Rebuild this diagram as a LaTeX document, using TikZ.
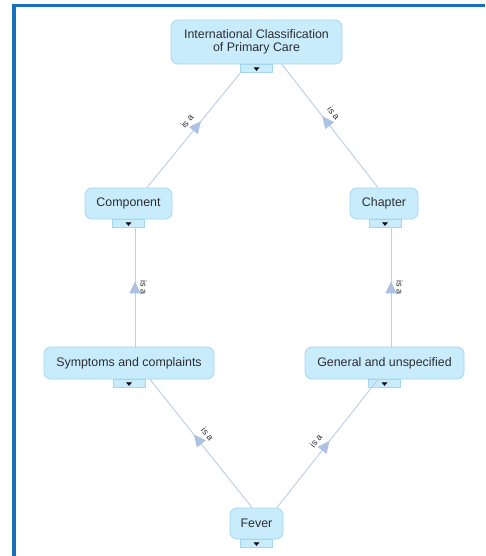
\documentclass[tikz,border=0pt]{standalone}
\usepackage{fontspec}
\setmainfont{Liberation Sans}
\usetikzlibrary{arrows.meta,decorations.markings}
\definecolor{nodefill}{RGB}{201,236,252}
\definecolor{nodeline}{RGB}{165,214,240}
\definecolor{edgeline}{RGB}{192,208,234}
\definecolor{arrowfill}{RGB}{172,194,228}
\definecolor{framecol}{RGB}{24,112,186}
\definecolor{txt}{RGB}{45,45,50}
\newcommand\tabmark[1]{\fill[black] ([shift={(-3pt,1.5pt)}]#1.center) -- ([shift={(3pt,1.5pt)}]#1.center) -- ([shift={(0pt,-2pt)}]#1.center) -- cycle;}
\begin{document}
\begin{tikzpicture}[x=1pt,y=-1pt,
 concept/.style={draw=nodeline, fill=nodefill, rounded corners=7pt, line width=0.8pt, inner sep=0pt, text=txt, font=\fontsize{12.4}{13}\selectfont, align=center},
 tabbox/.style={draw=nodeline, fill=nodefill, line width=0.8pt, minimum width=32pt, minimum height=8pt, inner sep=0pt, anchor=north},
 isa/.style={draw=edgeline, line width=1pt, postaction={decorate}, decoration={markings, mark=at position #1 with {\arrow{Triangle[length=12pt,width=11pt,fill=arrowfill,color=arrowfill]}}}},
 isa/.default=0.57,
 lbl/.style={font=\fontsize{9}{9}\selectfont, text=txt, inner sep=1pt}
]
\useasboundingbox (0,0) rectangle (485,556);
\fill[white] (0,0) rectangle (485,556);
% frame
\fill[framecol] (12,4) rectangle (485,7.5);
\fill[framecol] (12,4) rectangle (16,556);

\node[concept, minimum width=171pt, minimum height=44pt] (icpc) at (256.5,42) {International Classification\\of Primary Care};
\node[concept, minimum width=87pt, minimum height=31pt] (comp) at (128.5,203.5) {Component};
\node[concept, minimum width=68pt, minimum height=31pt] (chap) at (384,203.5) {Chapter};
\node[concept, minimum width=170pt, minimum height=32pt] (symp) at (129,363) {Symptoms and complaints};
\node[concept, minimum width=159pt, minimum height=32pt] (gen) at (384.5,363) {General and unspecified};
\node[concept, minimum width=53pt, minimum height=31pt] (fever) at (256.5,523.5) {Fever};

\node[tabbox] (icpct) at (icpc.south) {};
\node[tabbox] (compt) at (comp.south) {};
\node[tabbox] (chapt) at ([xshift=1pt]chap.south) {};
\node[tabbox] (sympt) at (symp.south) {};
\node[tabbox] (gent) at (gen.south) {};
\node[tabbox] (fevert) at (fever.south) {};
\tabmark{icpct}
\tabmark{compt}
\tabmark{chapt}
\tabmark{sympt}
\tabmark{gent}
\tabmark{fevert}

\draw[isa=0.58] ([xshift=18.5pt]comp.north) -- (icpct.south west)
  node[lbl, pos=0.52, sloped, above=6pt] {is a};
\draw[isa=0.58] ([xshift=-6pt]chap.north) -- ([xshift=25.5pt]icpc.south)
  node[lbl, pos=0.55, sloped, above=6pt] {is a};
\draw[isa=0.55] ([xshift=6pt]symp.north) -- ([xshift=6pt]symp.north |- compt.south)
  node[lbl, pos=0.5, rotate=-90, anchor=south, inner sep=5pt] {is a};
\draw[isa=0.55] ([xshift=6.5pt]gen.north) -- ([xshift=6.5pt]gen.north |- chapt.south)
  node[lbl, pos=0.5, rotate=-90, anchor=south, inner sep=5pt] {is a};
\draw[isa=0.57] ([xshift=-4.5pt]fever.north) -- ([xshift=21pt]symp.south)
  node[lbl, pos=0.52, sloped, above=6pt] {is a};
\draw[isa=0.52] ([xshift=20.5pt]fever.north) -- ([xshift=-6.5pt]gen.south)
  node[lbl, pos=0.47, sloped, above=6pt] {is a};
\end{tikzpicture}
\end{document}
